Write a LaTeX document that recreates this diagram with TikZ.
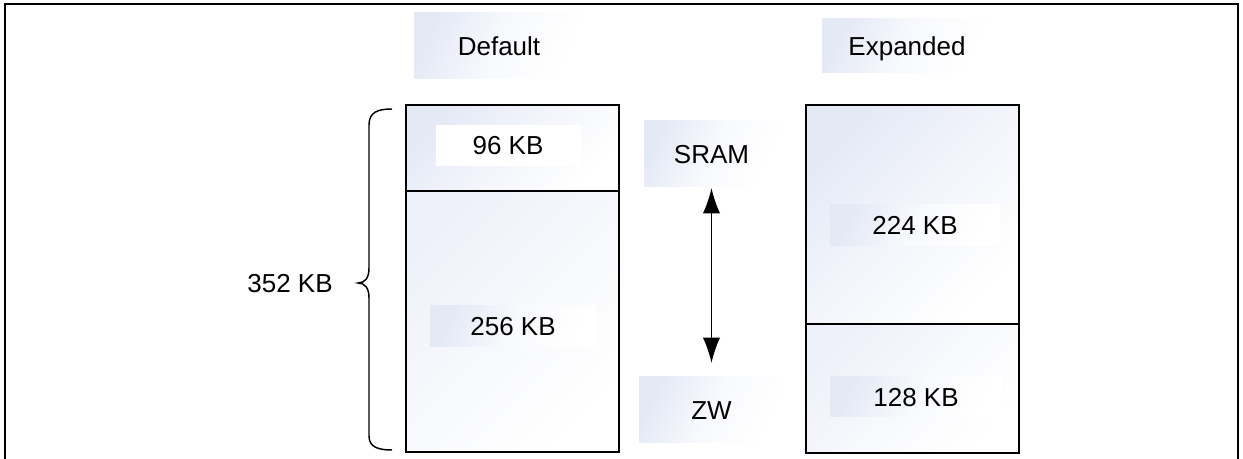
\documentclass[tikz,border=0pt]{standalone}
\usepackage{fontspec}
\setmainfont{Liberation Sans}
\usetikzlibrary{arrows.meta}
\definecolor{gradblue}{RGB}{228,233,246}
\definecolor{gradlight}{RGB}{238,241,249}
\begin{document}
\begin{tikzpicture}[x=0.75pt,y=-0.75pt,
  every node/.style={font=\fontsize{19.5}{23}\selectfont, inner sep=0pt, outer sep=0pt, text height=14pt, text depth=0pt},
  secbox/.style={draw=black, line width=1.5pt, top color=#1, bottom color=white, middle color=white!55!#1, shading angle=45},
  lblbox/.style={top color=gradblue, bottom color=white, middle color=white!75!gradblue, shading angle=65},
  whitebox/.style={fill=white},
  dblarrow/.style={line width=1.3pt, {Latex[length=19pt,width=13pt]}-{Latex[length=19pt,width=13pt]}},
  bracestyle/.style={line width=1.1pt}
]
\useasboundingbox (0,0) rectangle (1243,459);
% outer frame
\draw[line width=2pt] (5,462) -- (5,4) -- (1238,4) -- (1238,462);

% column headings
\node[lblbox, minimum width=127.5pt, minimum height=49.5pt] (deflbl) at (499,46) {Default};
\node[lblbox, minimum width=127.5pt, minimum height=40.5pt] (explbl) at (907,46) {Expanded};

% default column
\node[secbox=gradblue, minimum width=159.75pt, minimum height=64.5pt] (d96) at (512.5,148) {};
\node[secbox=gradlight, minimum width=159.75pt, minimum height=195.75pt] (d256) at (512.5,321.5) {};
\node[whitebox, minimum width=108.75pt, minimum height=30.75pt] (l96) at (508,145.5) {96 KB};
\node[lblbox, minimum width=124.5pt, minimum height=30.75pt] (l256) at (513,326.5) {256 KB};

% expanded column
\node[secbox=gradblue, minimum width=159.75pt, minimum height=164.25pt] (e224) at (912.5,214.5) {};
\node[secbox=gradlight, minimum width=159.75pt, minimum height=96.75pt] (e128) at (912.5,388.5) {};
\node[lblbox, minimum width=127.5pt, minimum height=30.75pt] (l224) at (915,225.5) {224 KB};
\node[lblbox, minimum width=129pt, minimum height=30pt] (l128) at (916,397) {128 KB};

% SRAM / ZW
\node[lblbox, minimum width=100.5pt, minimum height=49.5pt] (sram) at (711.5,154) {SRAM};
\node[lblbox, minimum width=108pt, minimum height=49.5pt] (zw) at (711.5,410) {ZW};
\draw[dblarrow, shorten <=0.75pt, shorten >=10.5pt] (sram.south) -- (zw.north);

% brace
\coordinate (btop) at (392,109);
\coordinate (bbot) at (392,450);
\coordinate (bmid) at (358,283);
\draw[bracestyle] (btop) .. controls (378,109) and (369,112) .. (369,125) -- (369,268)
  .. controls (369,278) and (365,283) .. (bmid)
  .. controls (365,283) and (369,288) .. (369,298) -- (369,436)
  .. controls (369,447) and (378,450) .. (bbot);
\node (total) at (290,283) {352 KB};
\end{tikzpicture}
\end{document}
